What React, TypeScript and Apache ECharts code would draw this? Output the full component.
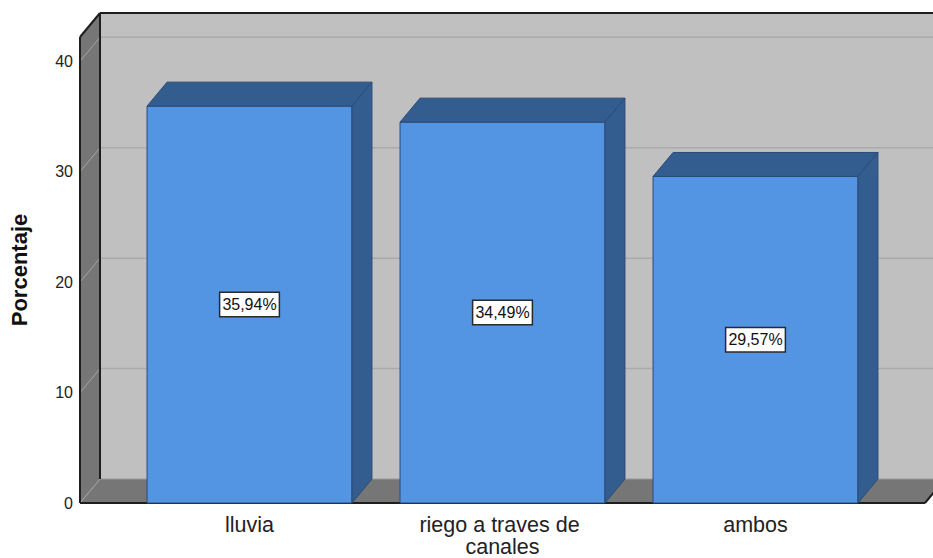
import React, { useEffect, useRef } from "react";
import * as echarts from "echarts";

const categories = ["lluvia", "riego a traves de canales", "ambos"];
const percentages = [35.94, 34.49, 29.57];
const yTicks = [0, 10, 20, 30, 40];

const FONT = "'Liberation Sans', Arial, Helvetica, sans-serif";
// 3D depth offset of the box (pixels toward the back)
const DEPTH_X = 20;
const DEPTH_Y = -24;
// how far the walls/floor extend beyond the category grid
const WALL_PAD = 43;

const BAR_FRONT = "#5394e3";
const BAR_SHADE = "#335c8f";
const WALL_DARK = "#767676";
const WALL_BACK = "#c0c0c0";
const EDGE = "#1e1e1e";

function fmtPct(v: number) {
  return v.toFixed(2).replace(".", ",") + "%";
}

export default function App() {
  const ref = useRef<HTMLDivElement>(null);

  useEffect(() => {
    if (!ref.current) return;
    const chart = echarts.init(ref.current, undefined, { renderer: "svg" });

    const renderWalls = (params: any, api: any) => {
      const cs = params.coordSys;
      const L = cs.x - WALL_PAD;
      const R = cs.x + cs.width + WALL_PAD;
      const T = cs.y;
      const B = cs.y + cs.height;
      const children: any[] = [];
      // back wall
      children.push({
        type: "rect",
        shape: { x: L + DEPTH_X, y: T + DEPTH_Y, width: R - L + 40, height: B - T },
        style: { fill: WALL_BACK },
      });
      // left wall
      children.push({
        type: "polygon",
        shape: { points: [[L, T], [L + DEPTH_X, T + DEPTH_Y], [L + DEPTH_X, B + DEPTH_Y], [L, B]] },
        style: { fill: WALL_DARK },
      });
      // floor
      children.push({
        type: "polygon",
        shape: { points: [[L, B], [L + DEPTH_X, B + DEPTH_Y], [R + DEPTH_X, B + DEPTH_Y], [R, B]] },
        style: { fill: WALL_DARK },
      });
      // grid lines on back wall and left wall
      yTicks.forEach((v) => {
        const y = api.coord([0, v])[1];
        if (v > 0) {
          children.push({
            type: "line",
            shape: { x1: L + DEPTH_X, y1: y + DEPTH_Y, x2: R + DEPTH_X + 40, y2: y + DEPTH_Y },
            style: { stroke: "#aaaaaa", lineWidth: 1.5 },
          });
        }
        children.push({
          type: "line",
          shape: { x1: L, y1: y, x2: L + DEPTH_X, y2: y + DEPTH_Y },
          style: { stroke: "#a4a4a4", lineWidth: 1 },
        });
      });
      // floor back edge
      children.push({
        type: "line",
        shape: { x1: L + DEPTH_X, y1: B + DEPTH_Y, x2: R + DEPTH_X, y2: B + DEPTH_Y },
        style: { stroke: "#9a9a9a", lineWidth: 1 },
      });
      // dark outline edges
      const edges = [
        [L, T, L, B],
        [L, T, L + DEPTH_X, T + DEPTH_Y],
        [L + DEPTH_X, T + DEPTH_Y, L + DEPTH_X, B + DEPTH_Y],
        [L + DEPTH_X, T + DEPTH_Y, R + DEPTH_X + 40, T + DEPTH_Y],
        [L, B, R, B],
        [R, B, R + DEPTH_X, B + DEPTH_Y],
      ];
      edges.forEach((e) => {
        children.push({
          type: "line",
          shape: { x1: e[0], y1: e[1], x2: e[2], y2: e[3] },
          style: { stroke: EDGE, lineWidth: 2 },
        });
      });
      return { type: "group", children };
    };

    const renderBar = (params: any, api: any) => {
      const idx = api.value(0);
      const val = api.value(1);
      const top = api.coord([idx, val]);
      const base = api.coord([idx, 0]);
      const band = api.size([1, 0])[0];
      const w = band * 0.81;
      const x = top[0] - w / 2;
      const yT = top[1];
      const yB = base[1];
      const stroke = "#2b4c78";
      return {
        type: "group",
        children: [
          {
            type: "rect",
            shape: { x, y: yT, width: w, height: yB - yT },
            style: { fill: BAR_FRONT, stroke, lineWidth: 1 },
          },
          {
            type: "polygon",
            shape: {
              points: [[x, yT], [x + DEPTH_X, yT + DEPTH_Y], [x + w + DEPTH_X, yT + DEPTH_Y], [x + w, yT]],
            },
            style: { fill: BAR_SHADE, stroke, lineWidth: 1 },
          },
          {
            type: "polygon",
            shape: {
              points: [[x + w, yT], [x + w + DEPTH_X, yT + DEPTH_Y], [x + w + DEPTH_X, yB + DEPTH_Y], [x + w, yB]],
            },
            style: { fill: BAR_SHADE, stroke, lineWidth: 1 },
          },
          {
            type: "text",
            x: top[0],
            y: (yT + yB) / 2,
            style: {
              text: fmtPct(val),
              fill: "#111",
              font: `16px ${FONT}`,
              align: "center",
              verticalAlign: "middle",
              backgroundColor: "#ffffff",
              borderColor: "#2a2a2a",
              borderWidth: 1.5,
              padding: [4, 2, 3, 2],
            },
          },
        ],
      };
    };

    chart.setOption({
      animation: false,
      backgroundColor: "#ffffff",
      textStyle: { fontFamily: FONT },
      grid: { left: 123, right: 51, top: 37, bottom: 54 },
      xAxis: {
        type: "category",
        data: categories,
        axisLine: { show: false },
        axisTick: { show: false },
        axisLabel: {
          interval: 0,
          color: "#222",
          fontSize: 21.5,
          lineHeight: 22,
          margin: 11,
          width: 230,
          overflow: "break",
          fontFamily: FONT,
        },
      },
      yAxis: {
        type: "value",
        min: 0,
        max: 42.2,
        interval: 10,
        offset: WALL_PAD,
        axisLine: { show: false },
        axisTick: { show: false },
        splitLine: { show: false },
        axisLabel: {
          color: "#222",
          fontSize: 16,
          margin: 7,
          showMaxLabel: false,
          fontFamily: FONT,
        },
        name: "Porcentaje",
        nameLocation: "middle",
        nameGap: 50,
        nameTextStyle: { fontSize: 22, fontWeight: "bold", color: "#111", fontFamily: FONT },
      },
      series: [
        {
          type: "custom",
          z: 1,
          silent: true,
          renderItem: renderWalls,
          data: [[0, 0]],
          encode: { x: 0, y: 1 },
        },
        {
          type: "custom",
          z: 2,
          renderItem: renderBar,
          data: categories.map((_, i) => [i, percentages[i]]),
          encode: { x: 0, y: 1 },
        },
      ],
    });

    return () => chart.dispose();
  }, []);

  return (
    <div
      ref={ref}
      style={{ position: "fixed", left: 0, top: 0, width: 933, height: 558 }}
    />
  );
}
